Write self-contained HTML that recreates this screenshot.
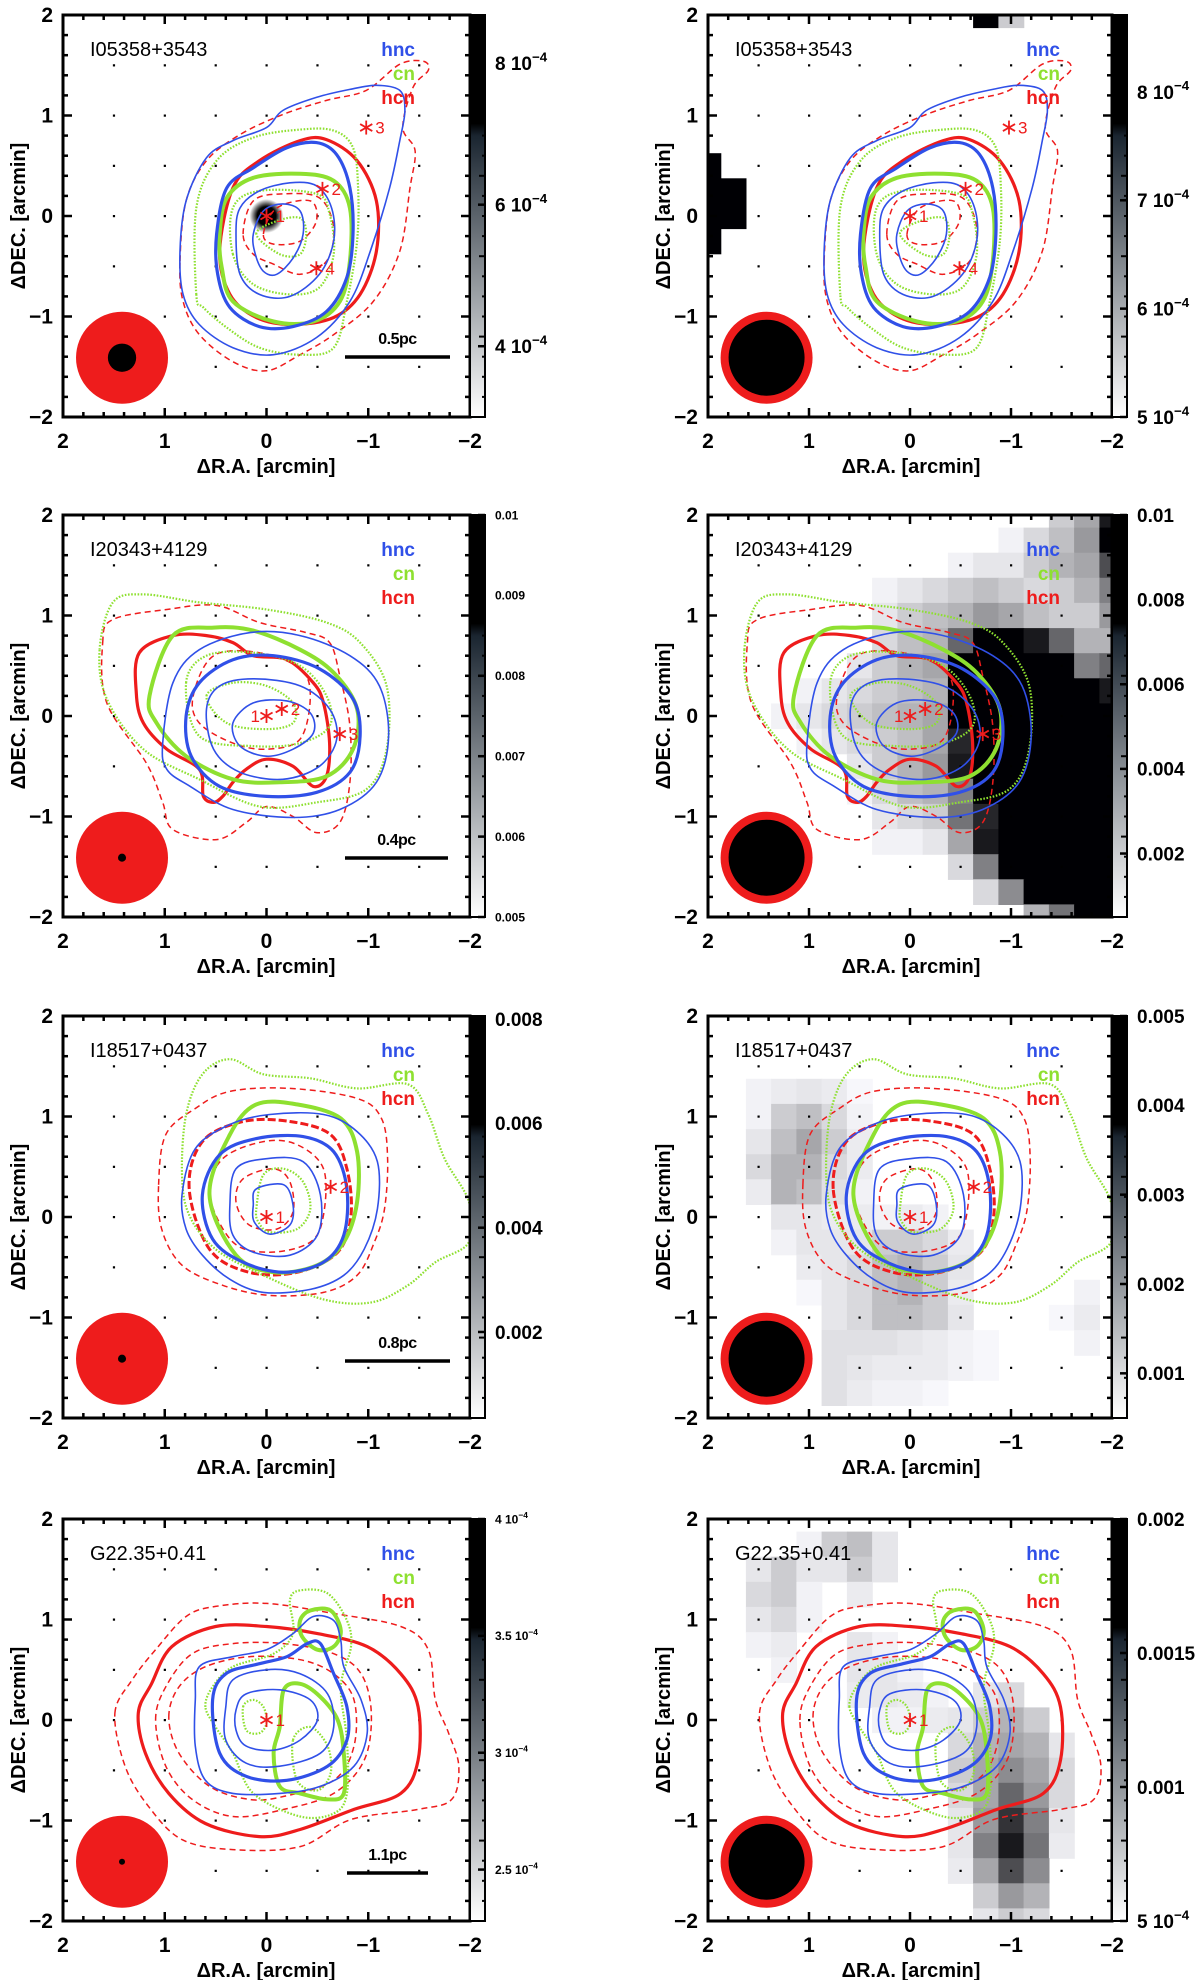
<!DOCTYPE html>
<html><head><meta charset="utf-8">
<style>
html,body{margin:0;padding:0;background:#fff;}
svg{display:block;font-family:"Liberation Sans",sans-serif;}
</style></head>
<body>
<svg id="fig" width="1200" height="1980" viewBox="0 0 1200 1980" xmlns="http://www.w3.org/2000/svg"></svg>
<script>
// ---------- DATA ----------
const sources = ["I05358+3543","I20343+4129","I18517+0437","G22.35+0.41"];
const scaleBarLabels = ["0.5pc","0.4pc","0.8pc","1.1pc"];
const beamDotRadius = [0.14,0.04,0.04,0.02]; // arcmin

// stars [x,y,label] in arcmin
const stars1 = [[0,0,"1"],[-0.55,0.27,"2"],[-0.98,0.88,"3"],[-0.49,-0.52,"4"]];
const stars2 = [[0,0,"1"],[-0.15,0.07,"2"],[-0.72,-0.18,"3"]];
const stars3 = [[0,0,"1"],[-0.63,0.3,"2"]];
const stars4 = [[0,0,"1"]];

// contours: [molecule, level-style, flat points (x,y arcmin)]
const contours1 = [
 ["hcn","dash",[0.85,-0.45,0.79,0.15,0.59,0.55,0.26,0.81,-0.16,1.01,-0.59,1.15,-0.98,1.25,-1.31,1.51,-1.54,1.54,-1.59,1.45,-1.44,1.28,-1.34,0.88,-1.46,0.65,-1.41,0.28,-1.31,-0.35,-1.05,-0.85,-0.66,-1.18,-0.33,-1.38,0,-1.54,0.33,-1.45,0.66,-1.18,0.82,-0.85]],
 ["hcn","thick",[0.46,-0.35,0.33,0.28,0.07,0.55,-0.33,0.75,-0.59,0.76,-0.89,0.55,-1.08,0.15,-1.08,-0.35,-0.92,-0.78,-0.66,-1.01,-0.26,-1.08,0.1,-1.01,0.36,-0.78]],
 ["hcn","dash",[0.23,-0.18,0.13,0.15,-0.16,0.22,-0.52,0.18,-0.66,-0.12,-0.59,-0.45,-0.33,-0.58,-0.07,-0.48,0.13,-0.38]],
 ["hcn","dash",[0.03,-0.18,-0.1,0.08,-0.43,0.15,-0.49,-0.05,-0.33,-0.25,-0.07,-0.28]],
 ["cn","dot",[0.69,-0.78,0.69,0.08,0.49,0.55,0.13,0.78,-0.33,0.86,-0.66,0.85,-0.85,0.68,-0.9,0.28,-0.89,-0.25,-0.79,-0.85,-0.66,-1.31,-0.33,-1.38,0.07,-1.31,0.39,-1.11,0.62,-0.91]],
 ["cn","thick",[0.46,-0.18,0.39,0.18,0.13,0.38,-0.33,0.42,-0.66,0.35,-0.82,0.08,-0.82,-0.45,-0.72,-0.85,-0.46,-1.05,-0.07,-1.05,0.33,-0.85,0.44,-0.51]],
 ["cn","dot",[0.33,-0.38,0.33,0.08,0.07,0.25,-0.49,0.22,-0.62,0.02,-0.66,-0.38,-0.52,-0.71,-0.23,-0.78,0.13,-0.68]],
 ["cn","dot",[0.1,-0.18,-0.1,-0.05,-0.33,-0.02,-0.39,-0.18,-0.33,-0.38,-0.13,-0.38]],
 ["hnc","thin",[0.85,-0.35,0.79,0.15,0.59,0.58,0.33,0.75,0,0.88,-0.16,1.05,-0.49,1.18,-0.82,1.26,-1.08,1.3,-1.31,1.25,-1.36,1.05,-1.31,0.75,-1.21,0.28,-1.02,-0.35,-0.82,-0.85,-0.49,-1.21,-0.07,-1.38,0.33,-1.31,0.66,-1.08,0.82,-0.78]],
 ["hnc","thick",[0.49,-0.18,0.39,0.28,0.13,0.48,-0.2,0.68,-0.49,0.73,-0.69,0.61,-0.82,0.28,-0.85,-0.18,-0.79,-0.61,-0.59,-0.95,-0.26,-1.1,0.07,-1.1,0.36,-0.91,0.48,-0.58]],
 ["hnc","thin",[0.3,-0.18,0.26,0.08,0.07,0.25,-0.23,0.33,-0.49,0.3,-0.64,0.08,-0.66,-0.25,-0.52,-0.58,-0.23,-0.8,0.07,-0.78,0.26,-0.58]],
 ["hnc","thin",[0.13,-0.18,0.03,0.05,-0.16,0.12,-0.33,0.05,-0.36,-0.18,-0.26,-0.42,-0.1,-0.58,0.03,-0.55,0.11,-0.38]]
];
const contours2 = [
 ["hcn","dash",[1.61,0.73,1.51,0.96,0.98,1.06,0.49,1.1,0.07,0.93,-0.39,0.83,-0.62,0.73,-0.72,0.4,-0.82,-0.1,-0.82,-0.66,-0.72,-1.06,-0.49,-1.16,-0.26,-1,0,-0.9,0.2,-1.06,0.49,-1.23,0.92,-1.13,1.02,-0.86,1.18,-0.47,1.57,0.13]],
 ["hcn","thick",[1.28,0.23,1.25,0.63,0.92,0.8,0.59,0.8,0.33,0.73,0.13,0.6,-0.2,0.56,-0.46,0.33,-0.56,0.13,-0.62,-0.27,-0.59,-0.6,-0.46,-0.7,-0.26,-0.5,0,-0.43,0.2,-0.53,0.33,-0.66,0.43,-0.8,0.52,-0.86,0.62,-0.8,0.66,-0.53,0.98,-0.33,1.21,-0.07]],
 ["hcn","dash",[0.72,0.2,0.52,0.6,0.07,0.63,-0.33,0.47,-0.43,0.2,-0.33,-0.23,0,-0.33,0.33,-0.27,0.66,-0.07]],
 ["cn","dot",[1.64,0.66,1.51,1.13,1.21,1.21,0.66,1.13,0,1.06,-0.59,0.93,-0.92,0.73,-1.18,0.3,-1.18,-0.33,-0.98,-0.73,-0.49,-0.86,0.07,-0.9,0.66,-0.63,1.21,-0.33,1.57,0.17]],
 ["cn","thick",[1.15,0.2,0.92,0.8,0.52,0.88,0.13,0.85,-0.33,0.66,-0.66,0.43,-0.89,0.07,-0.85,-0.33,-0.59,-0.6,-0.13,-0.66,0.33,-0.63,0.79,-0.4,1.08,-0.07]],
 ["cn","dot",[0.79,0.33,0.59,0.6,0.13,0.63,-0.33,0.5,-0.59,0.2,-0.62,-0.1,-0.33,-0.27,0.13,-0.3,0.66,-0.2]],
 ["cn","dot",[0.59,0.2,0.33,0.33,0,0.3,-0.26,0.13,-0.26,-0.07,0,-0.13,0.39,-0.07]],
 ["hnc","thin",[1.02,-0.27,0.92,0.33,0.66,0.66,0.16,0.83,-0.33,0.8,-0.82,0.6,-1.11,0.3,-1.2,-0.2,-1.08,-0.66,-0.72,-0.93,-0.26,-1.01,0.33,-0.93,0.75,-0.7,0.98,-0.53]],
 ["hnc","thick",[0.79,0,0.66,0.33,0.33,0.56,-0.07,0.6,-0.52,0.47,-0.85,0.17,-0.92,-0.2,-0.82,-0.56,-0.49,-0.76,0,-0.8,0.46,-0.7,0.74,-0.4]],
 ["hnc","thin",[0.59,0.07,0.46,0.3,0.13,0.37,-0.33,0.3,-0.62,0.07,-0.69,-0.23,-0.52,-0.5,-0.16,-0.63,0.26,-0.56,0.52,-0.33]],
 ["hnc","thin",[0.33,-0.07,0.13,0.13,-0.2,0.15,-0.43,0.03,-0.46,-0.17,-0.26,-0.33,0,-0.4,0.26,-0.3]]
];
const contours3 = [
 ["hcn","dash",[1.06,0.32,0.99,0.82,0.7,1.08,0.36,1.25,-0.23,1.28,-0.89,1.18,-1.13,0.98,-1.19,0.58,-1.16,0.08,-1.06,-0.25,-0.89,-0.58,-0.56,-0.75,-0.03,-0.78,0.43,-0.68,0.83,-0.48,1.03,-0.12]],
 ["hcn","thickdash",[0.76,0.28,0.63,0.75,0.23,0.95,-0.23,0.95,-0.63,0.82,-0.79,0.48,-0.83,0.02,-0.7,-0.35,-0.3,-0.55,0.17,-0.55,0.56,-0.32]],
 ["hcn","dash",[0.56,0.22,0.43,0.58,0.03,0.75,-0.3,0.72,-0.56,0.48,-0.56,0.02,-0.43,-0.25,-0.03,-0.35,0.33,-0.25]],
 ["hcn","dash",[0.3,0.15,0.23,0.38,-0.07,0.48,-0.23,0.35,-0.26,0.05,-0.1,-0.12,0.17,-0.08]],
 ["cn","dot",[0.83,0.42,0.79,1.02,0.63,1.42,0.36,1.57,0.03,1.42,-0.43,1.38,-0.89,1.28,-1.39,1.32,-1.59,1.02,-1.75,0.58,-1.99,0.15,-1.99,-0.25,-1.66,-0.45,-1.39,-0.68,-1.03,-0.85,-0.56,-0.82,0.03,-0.58,0.5,-0.32,0.76,0.02]],
 ["cn","thick",[0.56,0.22,0.36,0.82,0.1,1.12,-0.3,1.12,-0.73,0.98,-0.89,0.65,-0.89,0.15,-0.76,-0.25,-0.5,-0.48,-0.07,-0.55,0.3,-0.38]],
 ["cn","dot",[0.1,0.08,0.03,0.42,-0.17,0.48,-0.36,0.35,-0.43,0.08,-0.3,-0.12,-0.03,-0.15,0.08,-0.05]],
 ["hnc","thin",[0.83,0.22,0.7,0.68,0.36,0.92,-0.03,1.02,-0.56,1.02,-0.89,0.85,-1.09,0.55,-1.09,0.08,-0.96,-0.32,-0.76,-0.58,-0.43,-0.72,0.03,-0.75,0.36,-0.62,0.63,-0.38,0.79,-0.12]],
 ["hnc","thick",[0.63,0.22,0.46,0.62,0.1,0.78,-0.36,0.8,-0.66,0.65,-0.79,0.28,-0.76,-0.18,-0.56,-0.45,-0.17,-0.55,0.23,-0.45,0.53,-0.22]],
 ["hnc","thin",[0.36,0.12,0.3,0.48,0,0.58,-0.36,0.55,-0.53,0.22,-0.5,-0.18,-0.23,-0.38,0.13,-0.35,0.33,-0.18]],
 ["hnc","thin",[0.13,0.12,0.1,0.28,-0.17,0.32,-0.26,0.12,-0.23,-0.08,-0.03,-0.17,0.12,-0.05]]
];
const contours4 = [
 ["hcn","dash",[1.49,0.07,1.32,0.4,1.09,0.7,0.79,1.03,0.5,1.13,0,1.16,-0.66,1.06,-1.32,0.93,-1.59,0.7,-1.66,0.2,-1.79,-0.13,-1.89,-0.46,-1.82,-0.79,-1.49,-0.89,-0.83,-0.99,-0.33,-1.26,0.33,-1.29,0.83,-1.19,1.16,-0.86,1.39,-0.46]],
 ["hcn","thick",[1.26,0.07,1.13,0.36,0.93,0.73,0.5,0.93,0,0.93,-0.5,0.86,-0.99,0.73,-1.32,0.46,-1.49,0.13,-1.49,-0.4,-1.32,-0.73,-0.86,-0.89,-0.33,-1.09,0.07,-1.16,0.6,-1.03,0.96,-0.73,1.19,-0.33]],
 ["hcn","dash",[1.09,0,0.99,0.33,0.73,0.66,0.33,0.76,-0.17,0.76,-0.66,0.66,-0.93,0.46,-1.03,0.07,-0.96,-0.4,-0.66,-0.73,-0.17,-0.89,0.33,-0.96,0.73,-0.79,0.99,-0.46]],
 ["hcn","dash",[0.96,0.03,0.86,0.33,0.6,0.53,0.17,0.63,-0.33,0.6,-0.66,0.46,-0.86,0.2,-0.86,-0.26,-0.66,-0.6,-0.17,-0.76,0.17,-0.79,0.56,-0.66,0.86,-0.33]],
 ["cn","dot",[0.6,0.13,0.53,0.33,0.33,0.53,-0.07,0.66,-0.26,0.86,-0.23,1.19,-0.33,1.29,-0.6,1.26,-0.79,0.99,-0.83,0.73,-0.73,0.33,-0.79,-0.2,-0.79,-0.73,-0.66,-0.93,-0.33,-0.96,0.13,-0.73,0.33,-0.33,0.5,-0.07]],
 ["cn","thick",[-0.33,0.99,-0.43,1.09,-0.63,1.09,-0.73,0.89,-0.66,0.73,-0.5,0.7,-0.35,0.83]],
 ["cn","thick",[-0.17,0.3,-0.33,0.36,-0.53,0.23,-0.7,0,-0.76,-0.33,-0.76,-0.73,-0.6,-0.79,-0.33,-0.73,-0.13,-0.66,-0.07,-0.33,-0.13,-0.07]],
 ["cn","dot",[0.23,0.13,0.13,0.2,0.03,0.13,0,-0.03,0.07,-0.13,0.2,-0.1]],
 ["cn","dot",[-0.26,-0.2,-0.43,-0.07,-0.6,-0.26,-0.63,-0.53,-0.5,-0.7,-0.3,-0.6]],
 ["hnc","thin",[0.7,0.2,0.66,0.53,0.33,0.63,0,0.7,-0.26,0.86,-0.46,1.03,-0.66,0.99,-0.73,0.79,-0.76,0.53,-0.93,0.2,-0.99,-0.13,-0.86,-0.46,-0.53,-0.66,-0.13,-0.73,0.33,-0.73,0.6,-0.6,0.7,-0.26]],
 ["hnc","thick",[0.53,0.2,0.4,0.46,0.07,0.56,-0.2,0.63,-0.4,0.76,-0.53,0.76,-0.66,0.46,-0.79,0.13,-0.79,-0.2,-0.6,-0.46,-0.2,-0.6,0.2,-0.56,0.46,-0.33]],
 ["hnc","thin",[0.4,0.13,0.33,0.4,0,0.5,-0.33,0.46,-0.6,0.26,-0.66,-0.07,-0.53,-0.33,-0.13,-0.46,0.2,-0.43,0.4,-0.2]],
 ["hnc","thin",[0.3,0.1,0.2,0.26,-0.13,0.3,-0.43,0.2,-0.5,0,-0.33,-0.2,-0.07,-0.3,0.2,-0.26,0.3,-0.1]]
];

// grey pixel maps (right column) [x, y, fraction of colour range]
const gray1 = [[2,0.5,1],[2,0.25,1],[2,0,1],[2,-0.25,1],[1.75,0.25,1],[1.75,0,1],[-0.75,2,1],[-1,2,0.2]];
const gray2 = [
 [-1.5,2,0.2],[-1.75,2,0.35],[-2,2,0.9],
 [-1,1.75,0.05],[-1.25,1.75,0.15],[-1.5,1.75,0.25],[-1.75,1.75,0.4],[-2,1.75,1],
 [-0.5,1.5,0.05],[-0.75,1.5,0.1],[-1,1.5,0.1],[-1.25,1.5,0.2],[-1.5,1.5,0.3],[-1.75,1.5,0.35],[-2,1.5,0.7],
 [0.25,1.25,0.05],[0,1.25,0.1],[-0.25,1.25,0.15],[-0.5,1.25,0.2],[-0.75,1.25,0.25],[-1,1.25,0.2],[-1.25,1.25,0.15],[-1.5,1.25,0.2],[-1.75,1.25,0.3],[-2,1.25,0.5],
 [0.25,1,0.1],[0,1,0.2],[-0.25,1,0.25],[-0.5,1,0.3],[-0.75,1,0.4],[-1,1,0.35],[-1.25,1,0.25],[-1.5,1,0.2],[-1.75,1,0.2],[-2,1,0.4],
 [0.25,0.75,0.15],[0,0.75,0.25],[-0.25,0.75,0.3],[-0.5,0.75,0.6],[-0.75,0.75,1],[-1,0.75,1],[-1.25,0.75,0.9],[-1.5,0.75,0.6],[-1.75,0.75,0.3],[-2,0.75,0.3],
 [0.5,0.5,0.1],[0.25,0.5,0.2],[0,0.5,0.3],[-0.25,0.5,0.35],[-0.5,0.5,1],[-0.75,0.5,1],[-1,0.5,1],[-1.25,0.5,1],[-1.5,0.5,1],[-1.75,0.5,0.5],[-2,0.5,0.6],
 [1,0.25,0.05],[0.75,0.25,0.1],[0.5,0.25,0.15],[0.25,0.25,0.2],[0,0.25,0.25],[-0.25,0.25,0.3],[-0.5,0.25,1],[-0.75,0.25,1],[-1,0.25,1],[-1.25,0.25,1],[-1.5,0.25,1],[-1.75,0.25,1],[-2,0.25,0.9],
 [1.25,0,0.05],[1,0,0.1],[0.75,0,0.15],[0.5,0,0.2],[0.25,0,0.25],[0,0,0.3],[-0.25,0,0.35],[-0.5,0,1],[-0.75,0,1],[-1,0,1],[-1.25,0,1],[-1.5,0,1],[-1.75,0,1],[-2,0,1],
 [1,-0.25,0.05],[0.75,-0.25,0.1],[0.5,-0.25,0.15],[0.25,-0.25,0.2],[0,-0.25,0.25],[-0.25,-0.25,0.35],[-0.5,-0.25,0.85],[-0.75,-0.25,1],[-1,-0.25,1],[-1.25,-0.25,1],[-1.5,-0.25,1],[-1.75,-0.25,1],[-2,-0.25,1],
 [0.5,-0.5,0.1],[0.25,-0.5,0.2],[0,-0.5,0.3],[-0.25,-0.5,0.4],[-0.5,-0.5,0.9],[-0.75,-0.5,1],[-1,-0.5,1],[-1.25,-0.5,1],[-1.5,-0.5,1],[-1.75,-0.5,1],[-2,-0.5,1],
 [0.5,-0.75,0.05],[0.25,-0.75,0.15],[0,-0.75,0.25],[-0.25,-0.75,0.3],[-0.5,-0.75,0.5],[-0.75,-0.75,1],[-1,-0.75,1],[-1.25,-0.75,1],[-1.5,-0.75,1],[-1.75,-0.75,1],[-2,-0.75,1],
 [0.25,-1,0.1],[0,-1,0.15],[-0.25,-1,0.2],[-0.5,-1,0.55],[-0.75,-1,0.85],[-1,-1,1],[-1.25,-1,1],[-1.5,-1,1],[-1.75,-1,1],[-2,-1,1],
 [0.25,-1.25,0.05],[0,-1.25,0.05],[-0.25,-1.25,0.1],[-0.5,-1.25,0.35],[-0.75,-1.25,0.9],[-1,-1.25,1],[-1.25,-1.25,1],[-1.5,-1.25,1],[-1.75,-1.25,1],[-2,-1.25,1],
 [-0.5,-1.5,0.15],[-0.75,-1.5,0.5],[-1,-1.5,1],[-1.25,-1.5,1],[-1.5,-1.5,1],[-1.75,-1.5,1],[-2,-1.5,1],
 [-0.75,-1.75,0.15],[-1,-1.75,0.45],[-1.25,-1.75,1],[-1.5,-1.75,1],[-1.75,-1.75,1],[-2,-1.75,1],
 [-1.25,-2,0.3],[-1.5,-2,0.55],[-1.75,-2,1],[-2,-2,1]
];
const gray3 = [
 [1.5,1.25,0.05],[1.25,1.25,0.08],[1,1.25,0.1],[0.75,1.25,0.08],[0.5,1.25,0.03],
 [1.5,1,0.05],[1.25,1,0.2],[1,1,0.25],[0.75,1,0.15],[0.5,1,0.05],
 [1.5,0.75,0.1],[1.25,0.75,0.25],[1,0.75,0.35],[0.75,0.75,0.2],[0.5,0.75,0.08],
 [1.5,0.5,0.15],[1.25,0.5,0.3],[1,0.5,0.3],[0.75,0.5,0.15],[0.5,0.5,0.08],
 [1.5,0.25,0.08],[1.25,0.25,0.3],[1,0.25,0.25],[0.75,0.25,0.12],[0.5,0.25,0.05],
 [1.25,0,0.1],[1,0,0.1],[0.75,0,0.08],[0.5,0,0.08],[0.25,0,0.05],[0,0,0.08],[-0.25,0,0.05],
 [1.25,-0.25,0.05],[1,-0.25,0.1],[0.75,-0.25,0.1],[0.5,-0.25,0.1],[0.25,-0.25,0.2],[0,-0.25,0.2],[-0.25,-0.25,0.15],[-0.5,-0.25,0.08],
 [1,-0.5,0.08],[0.75,-0.5,0.1],[0.5,-0.5,0.15],[0.25,-0.5,0.25],[0,-0.5,0.3],[-0.25,-0.5,0.2],[-0.5,-0.5,0.1],
 [1,-0.75,0.03],[0.75,-0.75,0.1],[0.5,-0.75,0.15],[0.25,-0.75,0.25],[0,-0.75,0.3],[-0.25,-0.75,0.2],[-0.5,-0.75,0.08],[-1.75,-0.75,0.05],
 [0.75,-1,0.1],[0.5,-1,0.15],[0.25,-1,0.25],[0,-1,0.25],[-0.25,-1,0.2],[-0.5,-1,0.1],[-1.5,-1,0.03],[-1.75,-1,0.08],
 [0.75,-1.25,0.12],[0.5,-1.25,0.12],[0.25,-1.25,0.12],[0,-1.25,0.1],[-0.25,-1.25,0.08],[-0.5,-1.25,0.05],[-0.75,-1.25,0.03],[-1.75,-1.25,0.05],
 [0.75,-1.5,0.12],[0.5,-1.5,0.1],[0.25,-1.5,0.08],[0,-1.5,0.08],[-0.25,-1.5,0.08],[-0.5,-1.5,0.05],[-0.75,-1.5,0.03],
 [0.75,-1.75,0.12],[0.5,-1.75,0.08],[0.25,-1.75,0.05],[0,-1.75,0.05],[-0.25,-1.75,0.03]
];
const gray4 = [
 [1,1.75,0.05],[0.75,1.75,0.2],[0.5,1.75,0.25],[0.25,1.75,0.1],
 [1.5,1.5,0.1],[1.25,1.5,0.2],[1,1.5,0.1],[0.75,1.5,0.1],[0.5,1.5,0.2],[0.25,1.5,0.1],
 [1.5,1.25,0.15],[1.25,1.25,0.2],[1,1.25,0.05],[0.5,1.25,0.08],
 [1.5,1,0.1],[1.25,1,0.15],[1,1,0.05],
 [1.5,0.75,0.05],[1.25,0.75,0.08],[0.5,0.75,0.1],[0.25,0.75,0.05],
 [1.25,0.5,0.05],[0.5,0.5,0.1],[0.25,0.5,0.1],[0,0.5,0.05],
 [0.5,0.25,0.08],[0.25,0.25,0.1],[0,0.25,0.08],[-0.25,0.25,0.05],[-0.75,0.25,0.1],[-1,0.25,0.15],
 [0.25,0,0.05],[0,0,0.05],[-0.25,0,0.08],[-0.5,0,0.1],[-0.75,0,0.2],[-1,0,0.3],[-1.25,0,0.2],
 [-0.5,-0.25,0.15],[-0.75,-0.25,0.3],[-1,-0.25,0.35],[-1.25,-0.25,0.3],[-1.5,-0.25,0.1],
 [-0.5,-0.5,0.2],[-0.75,-0.5,0.35],[-1,-0.5,0.45],[-1.25,-0.5,0.35],[-1.5,-0.5,0.15],
 [-0.5,-0.75,0.15],[-0.75,-0.75,0.35],[-1,-0.75,0.6],[-1.25,-0.75,0.4],[-1.5,-0.75,0.15],
 [-0.5,-1,0.1],[-0.75,-1,0.4],[-1,-1,0.8],[-1.25,-1,0.5],[-1.5,-1,0.1],
 [-0.5,-1.25,0.1],[-0.75,-1.25,0.5],[-1,-1.25,0.9],[-1.25,-1.25,0.55],[-1.5,-1.25,0.08],
 [-0.5,-1.5,0.08],[-0.75,-1.5,0.35],[-1,-1.5,0.7],[-1.25,-1.5,0.45],
 [-0.75,-1.75,0.2],[-1,-1.75,0.4],[-1.25,-1.75,0.3],
 [-0.75,-2,0.1],[-1,-2,0.2],[-1.25,-2,0.15]
];

// colour-bar ranges [min,max] and tick values / labels
const cbRange = [[3.0,8.68],[5.0,8.71],[0.005,0.01],[0.0005,0.01],[0.00035,0.00806],[0.0005,0.005],[2.28,4.0],[0.0005,0.002]];
const cbTickVals = [[8,6,4],[8,7,6,5],[0.01,0.009,0.008,0.007,0.006,0.005],[0.01,0.008,0.006,0.004,0.002],[0.008,0.006,0.004,0.002],[0.005,0.004,0.003,0.002,0.001],[4,3.5,3,2.5],[0.002,0.0015,0.001,0.0005]];
const cbTickText = [["8 10|−4","6 10|−4","4 10|−4"],["8 10|−4","7 10|−4","6 10|−4","5 10|−4"],["0.01","0.009","0.008","0.007","0.006","0.005"],["0.01","0.008","0.006","0.004","0.002"],["0.008","0.006","0.004","0.002"],["0.005","0.004","0.003","0.002","0.001"],["4 10|−4","3.5 10|−4","3 10|−4","2.5 10|−4"],["0.002","0.0015","0.001","5 10|−4"]];
const cbSmall = [false,false,true,false,false,false,true,false];

const allContours = [contours1,contours2,contours3,contours4];
const allStars = [stars1,stars2,stars3,stars4];
const allGray = [gray1,gray2,gray3,gray4];

// ---------- LAYOUT ----------
const NS = "http://www.w3.org/2000/svg";
const svg = document.getElementById("fig");
const rowTop = [15,515,1016,1519];
const colLeft = [63,708];
const PW = [407,404], PH = 402;
const COL = {hnc:"#3050e8", cn:"#8ee030", hcn:"#ee1c1c"};
const scaleBarPos = [[282,387,342],[282,385,343],[282,387,345],[284,365,354]];

function el(tag, attrs, parent) {
  const e = document.createElementNS(NS, tag);
  for (const k in attrs) e.setAttribute(k, attrs[k]);
  (parent || svg).appendChild(e);
  return e;
}
function smooth(pts, sx, sy) {
  const P = [];
  for (let i = 0; i < pts.length; i += 2) P.push([sx(pts[i]), sy(pts[i+1])]);
  const n = P.length;
  let d = "M" + P[0][0].toFixed(1) + "," + P[0][1].toFixed(1);
  for (let i = 0; i < n; i++) {
    const p0 = P[(i-1+n)%n], p1 = P[i], p2 = P[(i+1)%n], p3 = P[(i+2)%n];
    const c1 = [p1[0]+(p2[0]-p0[0])/6, p1[1]+(p2[1]-p0[1])/6];
    const c2 = [p2[0]-(p3[0]-p1[0])/6, p2[1]-(p3[1]-p1[1])/6];
    d += "C"+c1[0].toFixed(1)+","+c1[1].toFixed(1)+" "+c2[0].toFixed(1)+","+c2[1].toFixed(1)+" "+p2[0].toFixed(1)+","+p2[1].toFixed(1);
  }
  return d + "Z";
}
function grayColor(v) {
  const g = Math.round(255*(1-Math.max(0,Math.min(1,v))));
  return "rgb("+g+","+g+","+Math.min(255,g+4)+")";
}

// gradient for colour bars
const defs = el("defs", {});
const lg = el("linearGradient", {id:"cbg", x1:"0", y1:"1", x2:"0", y2:"0"}, defs);
el("stop", {offset:"0", "stop-color":"#ffffff"}, lg);
el("stop", {offset:"0.7", "stop-color":"#1a2530"}, lg);
el("stop", {offset:"0.73", "stop-color":"#000000"}, lg);
el("stop", {offset:"1", "stop-color":"#000000"}, lg);
const rg = el("radialGradient", {id:"blob"}, defs);
el("stop", {offset:"0", "stop-color":"#000"}, rg);
el("stop", {offset:"0.55", "stop-color":"#000"}, rg);
el("stop", {offset:"1", "stop-color":"#000", "stop-opacity":"0"}, rg);

for (let r = 0; r < 4; r++) {
  for (let c = 0; c < 2; c++) {
    const L = colLeft[c], T = rowTop[r], W = PW[c], H = PH;
    const sx = x => L + (2 - x) * W / 4;
    const sy = y => T + (2 - y) * H / 4;
    const idx = r*2 + c;
    const g = el("g", {});
    
    
    const cp = el("clipPath", {id:"clip"+idx}, defs);
    el("rect", {x:L, y:T, width:W, height:H}, cp);
    const inner = el("g", {"clip-path":"url(#clip"+idx+")"}, g);

    // background image
    if (c === 1) {
      const gg = el("g", {}, inner);
      
      
      for (const cell of allGray[r]) {
        const x0 = sx(cell[0] + 0.125), x1 = sx(cell[0] - 0.125);
        const y0 = sy(cell[1] + 0.125), y1 = sy(cell[1] - 0.125);
        const rc = el("rect", {x:x0.toFixed(1), y:y0.toFixed(1), width:(x1-x0+0.6).toFixed(1), height:(y1-y0+0.6).toFixed(1), fill:grayColor(cell[2])}, gg);
        
        
      }
    } else if (r === 0) {
      const b = el("circle", {cx:sx(0), cy:sy(0), r:17, fill:"url(#blob)"}, inner);
      
      
    }

    // grid dots
    const gv = [1.5,1,0.5,0,-0.5,-1,-1.5];
    for (const x of gv) for (const y of gv) el("rect", {x:sx(x)-1, y:sy(y)-1, width:2.2, height:2.2, fill:"#000"}, inner);

    // contours
    for (const ct of allContours[r]) {
      const [mol, sty, pts] = ct;
      const a = {d: smooth(pts, sx, sy), fill:"none", stroke:COL[mol], "stroke-linejoin":"round"};
      if (sty === "thin") a["stroke-width"] = 1.6;
      else if (sty === "thick") a["stroke-width"] = (mol === "cn" ? 4 : 3.2);
      else if (sty === "dash") { a["stroke-width"] = 1.5; a["stroke-dasharray"] = "6 4"; }
      else if (sty === "thickdash") { a["stroke-width"] = 3; a["stroke-dasharray"] = "8 3"; }
      else if (sty === "dot") { a["stroke-width"] = 2.2; a["stroke-dasharray"] = "1.6 1.6"; }
      const p = el("path", a, inner);
      
      
    }

    // stars
    for (const s of allStars[r]) {
      const cx = sx(s[0]), cy = sy(s[1]);
      const sg = el("g", {stroke:COL.hcn, "stroke-width":1.8}, inner);
      
      
      for (let k = 0; k < 3; k++) {
        const ang = Math.PI/2 + k*Math.PI/3;
        el("line", {x1:cx-7*Math.cos(ang), y1:cy-7*Math.sin(ang), x2:cx+7*Math.cos(ang), y2:cy+7*Math.sin(ang)}, sg);
      }
      const tx = el("text", {x:(r===1 && s[2]==="1") ? cx-16 : cx+9, y:cy+6, fill:COL.hcn, "font-size":17}, inner);
      tx.textContent = s[2];
    }

    // beam
    const bx = sx(1.42), by = sy(-1.41);
    const bm = el("g", {}, inner);
    
    
    el("circle", {cx:bx, cy:by, r:46, fill:"#ee1c1c"}, bm);
    if (c === 0) el("circle", {cx:bx, cy:by, r:Math.max(3, beamDotRadius[r]*101), fill:"#000"}, bm);
    else el("circle", {cx:bx, cy:by, r:38, fill:"#000"}, bm);

    // scale bar (left)
    if (c === 0) {
      const sp = scaleBarPos[r];
      const sb = el("line", {x1:L+sp[0], x2:L+sp[1], y1:T+sp[2], y2:T+sp[2], stroke:"#000", "stroke-width":3.5});
      
      
      const st = el("text", {x:L+(sp[0]+sp[1])/2, y:T+sp[2]-13, "text-anchor":"middle", "font-size":16, "font-weight":"bold", fill:"#000", "letter-spacing":"-0.5"});
      
      
      st.textContent = scaleBarLabels[r];
    }

    // title and legend
    const tt = el("text", {x:L+27, y:T+41, "font-size":20, fill:"#000"});
    
    
    tt.textContent = sources[r];
    const mols = ["hnc","cn","hcn"];
    for (let k = 0; k < 3; k++) {
      const lt = el("text", {x:L+352, y:T+41+k*24, "text-anchor":"end", "font-size":19, "font-weight":"bold", fill:COL[mols[k]]});
      
      
      lt.textContent = mols[k];
    }

    // frame + ticks
    const fr = el("rect", {x:L, y:T, width:W, height:H, fill:"none", stroke:"#000", "stroke-width":3});
    
    
    const tk = el("g", {stroke:"#000", "stroke-width":2.5});
    for (let i = -20; i <= 20; i += 2) {
      const v = i/10, major = (i % 10 === 0), len = major ? 9 : 5;
      const X = sx(v), Y = sy(v);
      el("line", {x1:X, x2:X, y1:T, y2:T+len}, tk);
      el("line", {x1:X, x2:X, y1:T+H, y2:T+H-len}, tk);
      el("line", {x1:L, x2:L+len, y1:Y, y2:Y}, tk);
      el("line", {x1:L+W, x2:L+W-len, y1:Y, y2:Y}, tk);
    }
    // tick labels
    for (let v = 2; v >= -2; v--) {
      const lab = v < 0 ? "−" + (-v) : String(v);
      const yl = el("text", {x:L-10, y:sy(v)+7, "text-anchor":"end", "font-size":21, "font-weight":"bold"});
      
      
      yl.textContent = lab;
      const xl = el("text", {x:sx(v), y:T+H+31, "text-anchor":"middle", "font-size":21, "font-weight":"bold"});
      
      
      xl.textContent = lab;
    }
    const xt = el("text", {x:L+203, y:T+H+56, "text-anchor":"middle", "font-size":20, "font-weight":"bold"});
    
    
    xt.textContent = "ΔR.A. [arcmin]";
    const yt = el("text", {x:0, y:0, transform:"translate("+(L-38)+","+(T+H/2)+") rotate(-90)", "text-anchor":"middle", "font-size":20, "font-weight":"bold"});
    
    
    yt.textContent = "ΔDEC. [arcmin]";

    // colour bar
    const cbx = L + W, cbw = 15;
    const cb = el("rect", {x:cbx, y:T, width:cbw, height:H, fill:"url(#cbg)", stroke:"#000", "stroke-width":2});
    
    
    const [vmin, vmax] = cbRange[idx];
    const cy = v => T + H - (v - vmin) / (vmax - vmin) * H;
    const ctk = el("g", {stroke:"#000", "stroke-width":2});
    for (let k = 0; k <= 20; k++) {
      const Y = T + k*H/20;
      el("line", {x1:cbx+cbw, x2:cbx+cbw-(k%4===0?6:3), y1:Y, y2:Y}, ctk);
    }
    const vals = cbTickVals[idx], txts = cbTickText[idx];
    const fs = cbSmall[idx] ? 12 : 19;
    for (let k = 0; k < vals.length; k++) {
      const Y = cy(vals[k]);
      el("line", {x1:cbx+cbw, x2:cbx+cbw-7, y1:Y, y2:Y, stroke:"#000", "stroke-width":2.5});
      const parts = txts[k].split("|");
      const t = el("text", {x:cbx+cbw+10, y:Y+fs*0.36, "font-size":fs, "font-weight":"bold", fill:"#000"});
      
      
      t.textContent = parts[0];
      if (parts[1]) {
        const sp = el("tspan", {dy:-fs*0.45, "font-size":fs*0.7}, t);
        sp.textContent = parts[1];
      }
    }
  }
}
</script>
</body></html>
